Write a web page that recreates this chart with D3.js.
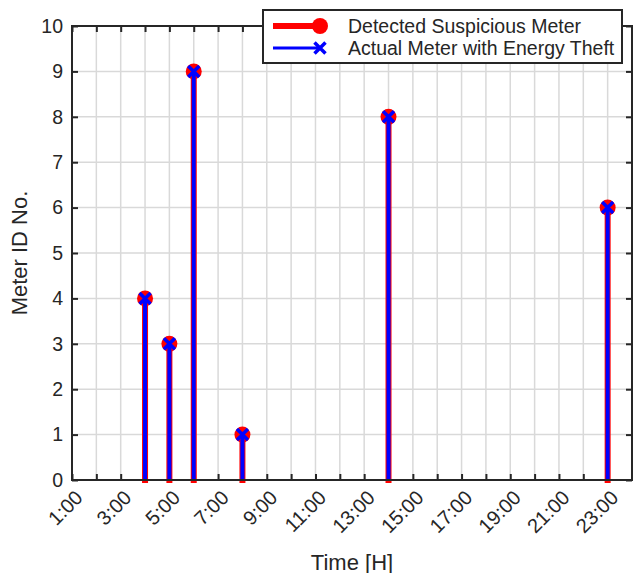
<!DOCTYPE html>
<html><head><meta charset="utf-8">
<script src="https://cdn.jsdelivr.net/npm/d3@7"></script>
<style>body{margin:0;background:#fff}text{font-family:"Liberation Sans",Arial,sans-serif;fill:#262626}</style>
</head><body><svg id="c" width="633" height="573"></svg>
<script>
const hours = [4, 5, 6, 8, 14, 23];
const detected = [4, 3, 9, 1, 8, 6];
const actual = [4, 3, 9, 1, 8, 6];
const xTickLabels = ["1:00","3:00","5:00","7:00","9:00","11:00","13:00","15:00","17:00","19:00","21:00","23:00"];
const yTicks = [0,1,2,3,4,5,6,7,8,9,10];
const legendLabels = ["Detected Suspicious Meter","Actual Meter with Energy Theft"];

const svg = d3.select("#c");
const L=72, R=632, T=26, B=480;
const x = d3.scaleLinear().domain([1,24]).range([L,R]);
const y = d3.scaleLinear().domain([0,10]).range([B,T]);
const hourTicks = d3.range(1,25);
const col = "#262626";

// grid
svg.append("g").selectAll("line").data(hourTicks.slice(1,-1)).join("line")
  .attr("x1",d=>x(d)).attr("x2",d=>x(d)).attr("y1",T).attr("y2",B)
  .attr("stroke","#d9d9d9").attr("stroke-width",1.5);
svg.append("g").selectAll("line").data(yTicks.slice(1,-1)).join("line")
  .attr("y1",d=>y(d)).attr("y2",d=>y(d)).attr("x1",L).attr("x2",R)
  .attr("stroke","#d9d9d9").attr("stroke-width",1.5);

// axes with inward ticks
const axB = d3.axisBottom(x).tickValues(hourTicks).tickSize(-6).tickFormat("");
const axT = d3.axisTop(x).tickValues(hourTicks).tickSize(-6).tickFormat("");
const axLft = d3.axisLeft(y).tickValues(yTicks).tickSize(-6).tickFormat("");
const axRt = d3.axisRight(y).tickValues(yTicks).tickSize(-6).tickFormat("");
function styleAx(g){g.selectAll("path").remove();g.selectAll("line").attr("stroke",col).attr("stroke-width",2);}
svg.append("g").attr("transform",`translate(0,${B})`).call(axB).call(styleAx);
svg.append("g").attr("transform",`translate(0,${T})`).call(axT).call(styleAx);
svg.append("g").attr("transform",`translate(${L},0)`).call(axLft).call(styleAx);
svg.append("g").attr("transform",`translate(${R},0)`).call(axRt).call(styleAx);

// stems
const data = hours.map((h,i)=>({h,d:detected[i],a:actual[i]}));
svg.append("g").selectAll("line").data(data).join("line")
  .attr("x1",d=>x(d.h)).attr("x2",d=>x(d.h)).attr("y1",y(0)+3).attr("y2",d=>y(d.d))
  .attr("stroke","#ff0000").attr("stroke-width",6);
svg.append("g").selectAll("circle").data(data).join("circle")
  .attr("cx",d=>x(d.h)).attr("cy",d=>y(d.d)).attr("r",8).attr("fill","#ff0000");
svg.append("g").selectAll("line").data(data).join("line")
  .attr("x1",d=>x(d.h)).attr("x2",d=>x(d.h)).attr("y1",y(0)+1).attr("y2",d=>y(d.a))
  .attr("stroke","#0000ff").attr("stroke-width",4);
svg.append("g").selectAll("path").data(data).join("path")
  .attr("d",d=>{const cx=x(d.h),cy=y(d.a),s=5.5;return `M${cx-s},${cy-s}L${cx+s},${cy+s}M${cx-s},${cy+s}L${cx+s},${cy-s}`;})
  .attr("stroke","#0000ff").attr("stroke-width",3.5).attr("fill","none");

// box
svg.append("rect").attr("x",L).attr("y",T).attr("width",R-L).attr("height",B-T)
  .attr("fill","none").attr("stroke",col).attr("stroke-width",2);

// tick labels
svg.append("g").selectAll("text").data(yTicks).join("text")
  .attr("x",L-9).attr("y",d=>y(d)).attr("dy","0.35em").attr("text-anchor","end")
  .attr("font-size",19.5).text(d=>d);
svg.append("g").selectAll("text").data(xTickLabels).join("text")
  .attr("transform",(d,i)=>`translate(${x(1+2*i)+7},${B+14}) rotate(-45)`)
  .attr("dy","0.35em").attr("text-anchor","end").attr("font-size",20).text(d=>d);

// titles
svg.append("text").attr("x",(L+R)/2).attr("y",570).attr("text-anchor","middle").attr("font-size",22).text("Time [H]");
svg.append("text").attr("transform",`translate(27,${(T+B)/2}) rotate(-90)`).attr("text-anchor","middle").attr("font-size",22).text("Meter ID No.");

// legend
const lg = svg.append("g");
lg.append("rect").attr("x",263).attr("y",10).attr("width",359).attr("height",53).attr("fill","#fff").attr("stroke",col).attr("stroke-width",2);
lg.append("line").attr("x1",273).attr("x2",320).attr("y1",26).attr("y2",26).attr("stroke","#ff0000").attr("stroke-width",6);
lg.append("circle").attr("cx",320).attr("cy",26).attr("r",8).attr("fill","#ff0000");
lg.append("line").attr("x1",273).attr("x2",320).attr("y1",48).attr("y2",48).attr("stroke","#0000ff").attr("stroke-width",3);
lg.append("path").attr("d","M314.5,42.5L325.5,53.5M314.5,53.5L325.5,42.5").attr("stroke","#0000ff").attr("stroke-width",3.5);
lg.selectAll("text.l").data(legendLabels).join("text").attr("class","l")
  .attr("x",348).attr("y",(d,i)=>26+22*i).attr("dy","0.35em").attr("font-size",19.5).text(d=>d);
</script></body></html>
